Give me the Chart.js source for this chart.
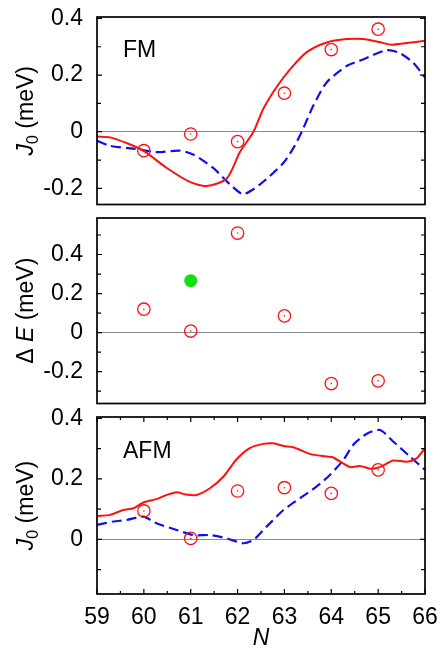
<!DOCTYPE html>
<html><head><meta charset="utf-8">
<script src="https://cdn.jsdelivr.net/npm/chart.js@4"></script>
<style>
html,body{margin:0;padding:0;background:#fff;width:444px;height:652px;overflow:hidden}
canvas{position:absolute;left:0}
</style></head><body>
<canvas id="c1" width="444" height="212" style="top:0px;width:444px;height:212px"></canvas>
<canvas id="c2" width="444" height="204" style="top:207px;width:444px;height:204px"></canvas>
<canvas id="c3" width="444" height="248" style="top:404px;width:444px;height:248px"></canvas>
<script>
// ---------- data ----------
const nTicks = [59, 60, 61, 62, 63, 64, 65, 66];
const nCalc = [60, 61, 62, 63, 64, 65];

const fmTicks = [-0.2, 0, 0.2, 0.4];
const fmCircles = [-0.067, -0.008, -0.035, 0.136, 0.29, 0.362];
const fmSolidN = [59.0,59.28,59.63,59.99,60.49,60.98,61.34,61.77,62.05,62.34,62.55,62.83,63.12,63.47,63.9,64.33,64.68,65.04,65.29,65.61,66.0];
const fmSolidJ = [-0.017,-0.02,-0.04,-0.067,-0.128,-0.177,-0.192,-0.165,-0.072,0,0.081,0.157,0.22,0.28,0.315,0.327,0.327,0.316,0.307,0.313,0.321];
const fmDashN = [59.0,59.28,59.78,60.27,60.77,61.06,61.48,61.84,62.12,62.48,62.98,63.19,63.37,63.62,63.9,64.33,64.68,65.18,65.46,65.75,66.0];
const fmDashJ = [-0.032,-0.05,-0.06,-0.072,-0.067,-0.081,-0.128,-0.186,-0.22,-0.186,-0.11,-0.058,0,0.093,0.174,0.232,0.255,0.288,0.278,0.243,0.191];

const dETicks = [-0.2, 0, 0.2, 0.4];
const dECircles = [0.12, 0.008, 0.51, 0.086, -0.261, -0.247];
const dEGreenN = [61];
const dEGreen = [0.266];

const afmTicks = [0, 0.2, 0.4];
const afmCircles = [0.094, 0.003, 0.16, 0.171, 0.152, 0.23];
const afmSolidN = [59.0,59.28,59.56,59.78,59.99,60.27,60.49,60.7,60.88,61.13,61.41,61.7,61.98,62.26,62.55,62.76,62.98,63.19,63.54,63.9,64.04,64.4,64.61,64.83,65.04,65.32,65.61,65.82,66.0];
const afmSolidJ = [0.077,0.081,0.097,0.103,0.122,0.133,0.147,0.156,0.149,0.147,0.169,0.208,0.265,0.302,0.316,0.318,0.309,0.305,0.283,0.274,0.271,0.239,0.243,0.234,0.239,0.261,0.257,0.268,0.302];
const afmDashN = [59.0,59.35,59.63,59.99,60.27,60.7,61.06,61.41,61.77,62.12,62.34,62.62,62.98,63.33,63.69,63.97,64.26,64.47,64.75,65.04,65.32,65.68,66.0];
const afmDashJ = [0.048,0.059,0.064,0.075,0.053,0.031,0.014,0.014,0.003,-0.013,-0.002,0.042,0.097,0.136,0.175,0.213,0.263,0.313,0.349,0.362,0.324,0.274,0.23];

// ---------- helpers ----------
const FONT = "'Liberation Sans', Arial, Helvetica, sans-serif";
const FS = 23;
const RED = '#ff1010', BLUE = '#1010ee', GREEN = '#10e010';
const pts = (xs, ys) => xs.map((x, i) => ({x, y: ys[i]}));

function lineDs(xs, ys, color, dash) {
  return {type:'line', data: pts(xs, ys), borderColor: color, borderWidth: dash ? 2.2 : 2,
    borderDash: dash ? [10, 5] : [], pointRadius: 0, tension: 0.25, fill: false, order: 2};
}
function circleDs(ys) {
  return {type:'scatter', data: pts(nCalc, ys), pointRadius: 6.2, pointBorderWidth: 1.3,
    pointBorderColor: RED, pointBackgroundColor: 'rgba(0,0,0,0)', showLine: false, order: 1};
}
function dotDs(ys) {
  return {type:'scatter', data: pts(nCalc, ys), pointRadius: 0.8, pointBorderWidth: 0,
    pointBackgroundColor: RED, showLine: false, order: 1};
}

const panelPlugin = {
  id: 'panel',
  afterDraw(chart, args, o) {
    const {ctx, chartArea: a, scales} = chart;
    const y = scales.y, x = scales.x;
    ctx.save();
    ctx.strokeStyle = '#000';
    ctx.lineWidth = 1.2;
    for (let k = Math.ceil(y.min * 10 - 1e-6); k <= Math.floor(y.max * 10 + 1e-6); k++) {
      const p = y.getPixelForValue(k / 10);
      const L = (k % 2 === 0) ? 5 : 4;
      ctx.beginPath();
      ctx.moveTo(a.left, p); ctx.lineTo(a.left + L, p);
      ctx.moveTo(a.right, p); ctx.lineTo(a.right - L, p);
      ctx.stroke();
    }
    if (o.xTicks) {
      for (let k = Math.ceil(x.min * 2); k <= Math.floor(x.max * 2); k++) {
        const p = x.getPixelForValue(k / 2);
        const L = (k % 2 === 0) ? 5 : 3;
        ctx.beginPath();
        ctx.moveTo(p, a.bottom); ctx.lineTo(p, a.bottom - L);
        ctx.moveTo(p, a.top); ctx.lineTo(p, a.top + L);
        ctx.stroke();
      }
    }
    ctx.lineWidth = 1.7;
    ctx.strokeRect(a.left, a.top, a.right - a.left, a.bottom - a.top);
    ctx.fillStyle = '#000';
    if (o.label) {
      ctx.font = FS + 'px ' + FONT;
      ctx.textBaseline = 'alphabetic';
      ctx.textAlign = 'left';
      ctx.fillText(o.label, a.left + 26, a.top + o.labelY);
    }
    const parts = o.title;
    const fontOf = p => (p.italic ? 'italic ' : '') + (p.sub ? '16px ' : FS + 'px ') + FONT;
    let total = 0;
    parts.forEach(p => { ctx.font = fontOf(p); p.w = ctx.measureText(p.t).width; total += p.w; });
    ctx.translate(33, (a.top + a.bottom) / 2);
    ctx.rotate(-Math.PI / 2);
    ctx.textAlign = 'left';
    ctx.textBaseline = 'alphabetic';
    let cx = -total / 2;
    parts.forEach(p => {
      ctx.font = fontOf(p);
      ctx.fillText(p.t, cx, p.sub ? 5 : 0);
      cx += p.w;
    });
    ctx.restore();
  }
};

function zeroPad(s) { s.paddingTop = 0; s.paddingBottom = 0; s.paddingLeft = 0; s.paddingRight = 0; }

function yScale(min, max, ticks) {
  return {
    type: 'linear', min, max,
    afterBuildTicks: s => { s.ticks = ticks.map(v => ({value: v})); },
    afterFit: s => { s.width = 97; zeroPad(s); },
    ticks: {color: '#000', font: {size: FS, family: FONT}, padding: 14,
      callback: v => String(Math.round(v * 10) / 10)},
    grid: {drawTicks: false, lineWidth: 1,
      color: c => (c.tick && Math.abs(c.tick.value) < 1e-9) ? '#8a8a8a' : 'rgba(0,0,0,0)'},
    border: {display: false}
  };
}

function makeChart(id, datasets, yopts, padding, xVisible, pluginOpts) {
  const xs = {
    type: 'linear', min: 59, max: 66, display: xVisible,
    grid: {display: false, drawTicks: false},
    border: {display: false},
    afterFit: s => { if (xVisible) s.height = 58; zeroPad(s); }
  };
  if (xVisible) {
    xs.afterBuildTicks = s => { s.ticks = nTicks.map(v => ({value: v})); };
    xs.ticks = {color: '#000', font: {size: FS, family: FONT}, padding: 10, maxRotation: 0,
      autoSkip: false, callback: v => String(v)};
    xs.title = {display: true, text: 'N', color: '#000',
      font: {size: FS, family: FONT, style: 'italic'}, padding: {top: 0, bottom: 0}};
  }
  return new Chart(document.getElementById(id), {
    data: {datasets},
    options: {
      responsive: false, animation: false, devicePixelRatio: 1,
      layout: {padding},
      plugins: {legend: {display: false}, tooltip: {enabled: false}, panel: pluginOpts},
      scales: {x: xs, y: yopts}
    },
    plugins: [panelPlugin]
  });
}

const jTitle = [{t: 'J', italic: true}, {t: '0', sub: true}, {t: ' (meV)'}];

makeChart('c1', [
  lineDs(fmSolidN, fmSolidJ, RED, false),
  lineDs(fmDashN, fmDashJ, BLUE, true),
  circleDs(fmCircles), dotDs(fmCircles)
], yScale(-0.257, 0.405, fmTicks), {top: 17, right: 19, bottom: 5, left: 0}, false,
  {label: 'FM', labelY: 40, title: jTitle});

makeChart('c2', [
  circleDs(dECircles), dotDs(dECircles),
  {type: 'scatter', data: pts(dEGreenN, dEGreen), pointRadius: 6.5, pointBorderWidth: 0,
    pointBackgroundColor: GREEN, order: 0}
], yScale(-0.363, 0.587, dETicks), {top: 11, right: 19, bottom: 5, left: 0}, false,
  {title: [{t: 'Δ '}, {t: 'E', italic: true}, {t: ' (meV)'}]});

makeChart('c3', [
  lineDs(afmSolidN, afmSolidJ, RED, false),
  lineDs(afmDashN, afmDashJ, BLUE, true),
  circleDs(afmCircles), dotDs(afmCircles)
], yScale(-0.181, 0.405, afmTicks), {top: 13, right: 19, bottom: 0, left: 0}, true,
  {label: 'AFM', labelY: 41, xTicks: true, title: jTitle});
</script>
</body></html>
